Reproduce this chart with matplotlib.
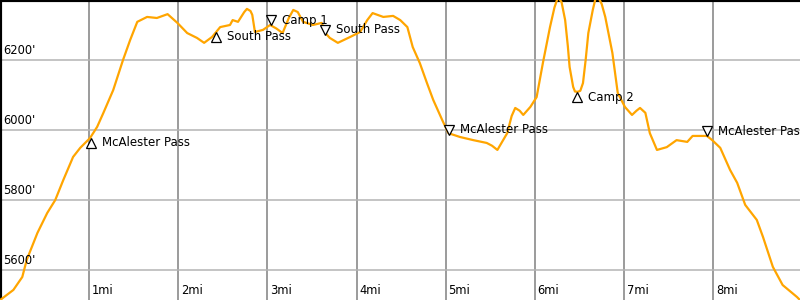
import matplotlib
matplotlib.use("Agg")
import matplotlib.pyplot as plt
from matplotlib.transforms import blended_transform_factory

# distance (miles) and elevation (feet) of the profile
miles = [0.00, 0.15, 0.25, 0.30, 0.42, 0.53, 0.62, 0.71, 0.82, 0.90, 1.01, 1.09,
         1.16, 1.27, 1.38, 1.46, 1.54, 1.65, 1.76, 1.88, 1.99, 2.10, 2.21, 2.29,
         2.38, 2.47, 2.58, 2.61, 2.67, 2.74, 2.77, 2.81, 2.83, 2.86, 2.95, 3.03,
         3.10, 3.17, 3.24, 3.29, 3.34, 3.40, 3.51, 3.61, 3.65, 3.70, 3.79, 3.93,
         4.04, 4.12, 4.18, 4.30, 4.41, 4.49, 4.57, 4.63, 4.71, 4.79, 4.86, 4.96,
         5.03, 5.16, 5.31, 5.46, 5.52, 5.58, 5.69, 5.74, 5.78, 5.83, 5.87, 5.95,
         6.02, 6.09, 6.17, 6.22, 6.26, 6.30, 6.34, 6.37, 6.39, 6.43, 6.45, 6.48,
         6.51, 6.54, 6.57, 6.60, 6.65, 6.68, 6.71, 6.75, 6.79, 6.87, 6.93, 7.01,
         7.09, 7.14, 7.18, 7.24, 7.29, 7.37, 7.48, 7.59, 7.71, 7.77, 7.93, 7.99,
         8.08, 8.19, 8.27, 8.36, 8.49, 8.56, 8.67, 8.78, 8.94, 9.03]
elev = [5514, 5543, 5580, 5629, 5706, 5763, 5800, 5857, 5923, 5949, 5977, 6009,
        6049, 6114, 6200, 6257, 6309, 6323, 6320, 6331, 6306, 6277, 6263, 6249,
        6266, 6294, 6300, 6314, 6309, 6337, 6346, 6340, 6329, 6280, 6286, 6300,
        6290, 6277, 6320, 6343, 6337, 6309, 6300, 6306, 6277, 6263, 6249, 6266,
        6280, 6314, 6334, 6323, 6326, 6314, 6294, 6237, 6191, 6134, 6086, 6029,
        5991, 5980, 5971, 5963, 5955, 5943, 5991, 6040, 6063, 6055, 6043, 6066,
        6094, 6191, 6294, 6350, 6380, 6365, 6314, 6240, 6180, 6123, 6110, 6109,
        6112, 6134, 6200, 6277, 6343, 6375, 6380, 6360, 6323, 6220, 6106, 6066,
        6043, 6055, 6063, 6049, 5991, 5943, 5951, 5971, 5966, 5983, 5983, 5971,
        5949, 5886, 5849, 5786, 5743, 5694, 5609, 5557, 5523, 5500]

# waypoints
wp_names = ["McAlester Pass", "South Pass", "Camp 1", "South Pass",
            "McAlester Pass", "Camp 2", "McAlester Pass"]
wp_miles = [1.02, 2.42, 3.04, 3.65, 5.04, 6.47, 7.93]
wp_elev = [5963, 6266, 6314, 6286, 6000, 6094, 5997]
wp_up = [True, True, False, False, False, True, False]

x_ticks = [1, 2, 3, 4, 5, 6, 7, 8]
x_labels = ["1mi", "2mi", "3mi", "4mi", "5mi", "6mi", "7mi", "8mi"]
y_ticks = [5600, 5800, 6000, 6200]
y_labels = ["5600'", "5800'", "6000'", "6200'"]

fig = plt.figure(figsize=(8, 3), dpi=100)
ax = fig.add_axes([0, 0, 1, 1])
ax.set_xlim(0, 800 / 89.14)
ax.set_ylim(6371.4 - 300 / 0.35, 6371.4)

for v in x_ticks:
    ax.axvline(v, color="#808080", lw=1.1, zorder=1)
for v in y_ticks:
    ax.axhline(v, color="#b4b4b4", lw=1.1, zorder=1)

ax.plot(miles, elev, color="#ffa500", lw=1.6, zorder=3,
        solid_joinstyle="round", solid_capstyle="round")

for n, m, e, up in zip(wp_names, wp_miles, wp_elev, wp_up):
    ax.plot([m], [e], marker="^" if up else "v", ms=7.5, mfc="white",
            mec="black", mew=0.9, zorder=4, linestyle="none")
    ax.annotate(n, (m, e), xytext=(8, 0), textcoords="offset points",
                va="center", ha="left", fontsize=8.5, color="black", zorder=5)

tx = blended_transform_factory(ax.transData, ax.transAxes)
for v, lab in zip(x_ticks, x_labels):
    ax.annotate(lab, (v, 0), xycoords=tx, xytext=(2, 2),
                textcoords="offset points", ha="left", va="bottom", fontsize=8.3)
ty = blended_transform_factory(ax.transAxes, ax.transData)
for v, lab in zip(y_ticks, y_labels):
    ax.annotate(lab, (0, v), xycoords=ty, xytext=(2, 2),
                textcoords="offset points", ha="left", va="bottom", fontsize=8.3)

ax.set_xticks([])
ax.set_yticks([])
for s in ["right", "bottom"]:
    ax.spines[s].set_visible(False)
for s in ["left", "top"]:
    ax.spines[s].set_color("black")
    ax.spines[s].set_linewidth(3)

fig.savefig("out.png", dpi=100)
